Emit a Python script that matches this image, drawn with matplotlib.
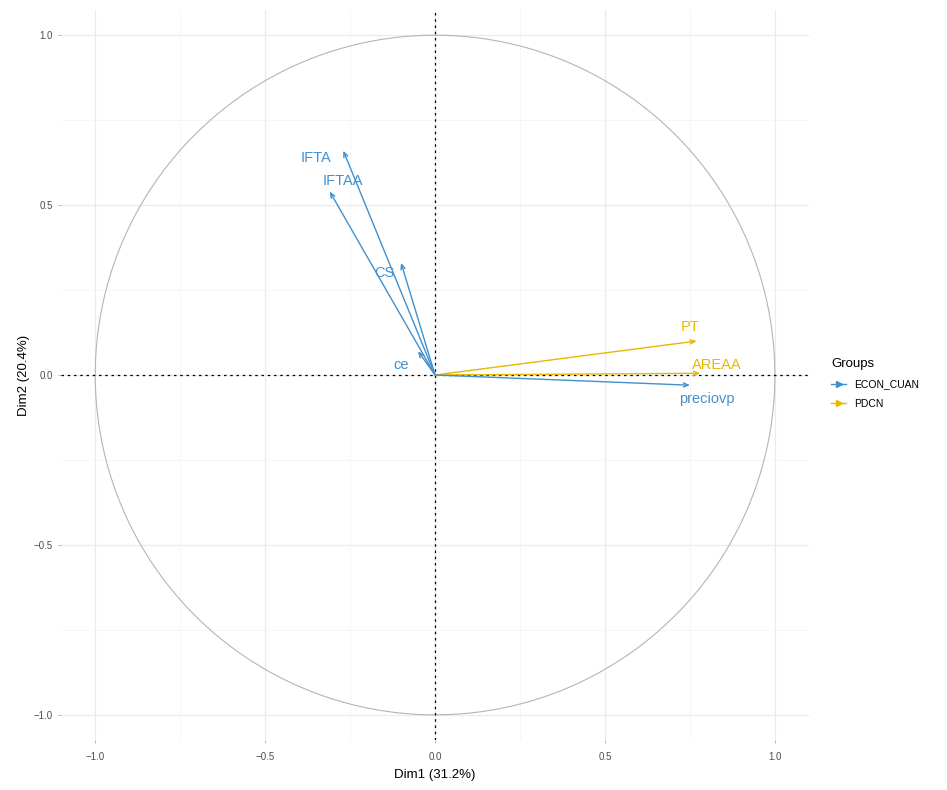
import matplotlib
matplotlib.use("Agg")
import matplotlib.pyplot as plt
import numpy as np
from matplotlib.lines import Line2D

plt.rcParams['font.family'] = ['Liberation Sans', 'DejaVu Sans']

# variable coordinates (Dim1, Dim2)
variables = ["IFTA", "IFTAA", "CS", "ce", "PT", "AREAA", "preciovp"]
dim1 = [-0.27, -0.31, -0.10, -0.05, 0.77, 0.78, 0.75]
dim2 = [0.66, 0.54, 0.33, 0.07, 0.10, 0.005, -0.03]
groups = ["ECON_CUAN", "ECON_CUAN", "ECON_CUAN", "ECON_CUAN", "PDCN", "PDCN", "ECON_CUAN"]
# label positions (data coordinates)
lab_x = [-0.35, -0.27, -0.15, -0.10, 0.75, 0.83, 0.80]
lab_y = [0.64, 0.57, 0.30, 0.03, 0.14, 0.03, -0.07]

group_names = ["ECON_CUAN", "PDCN"]
group_colors = {"ECON_CUAN": "#4190CE", "PDCN": "#E7B800"}

fig = plt.figure(figsize=(9.47, 7.9), dpi=100)
ax = fig.add_axes([0.0634, 0.0633, 0.792, 0.924])

# grid (theme_minimal)
for v in np.arange(-1.0, 1.01, 0.5):
    ax.axvline(v, color="#ebebeb", lw=0.9, zorder=0)
    ax.axhline(v, color="#ebebeb", lw=0.9, zorder=0)
for v in [-0.75, -0.25, 0.25, 0.75]:
    ax.axvline(v, color="#f3f3f3", lw=0.5, zorder=0)
    ax.axhline(v, color="#f3f3f3", lw=0.5, zorder=0)

# correlation circle
t = np.linspace(0, 2 * np.pi, 400)
ax.plot(np.cos(t), np.sin(t), color="#b5b5b5", lw=0.8, zorder=1)

ax.axhline(0, color="black", lw=0.9, ls=(0, (2, 3)), zorder=2)
ax.axvline(0, color="black", lw=0.9, ls=(0, (2, 3)), zorder=2)

for name, x, y, g, lx, ly in zip(variables, dim1, dim2, groups, lab_x, lab_y):
    c = group_colors[g]
    ax.annotate("", xy=(x, y), xytext=(0, 0),
                arrowprops=dict(arrowstyle="->,head_length=0.35,head_width=0.15",
                                color=c, lw=1.0, shrinkA=0, shrinkB=0), zorder=3)
    ax.text(lx, ly, name, color=c, fontsize=10.5, ha="center", va="center", zorder=4)

ax.set_xlim(-1.1, 1.1)
ax.set_ylim(-1.074, 1.074)
ax.set_aspect("equal")
ax.set_xticks([-1.0, -0.5, 0.0, 0.5, 1.0])
ax.set_yticks([-1.0, -0.5, 0.0, 0.5, 1.0])
ax.tick_params(labelsize=7, length=2.5, width=0.6, colors="#b0b0b0", labelcolor="#4d4d4d")
ax.tick_params(axis="x", pad=6)
for s in ax.spines.values():
    s.set_visible(False)
ax.set_xlabel("Dim1 (31.2%)", fontsize=9.5, labelpad=5)
ax.set_ylabel("Dim2 (20.4%)", fontsize=9.5, labelpad=3)

handles = [Line2D([0], [0], color=group_colors[g], lw=1.0, marker=">", markersize=4)
           for g in group_names]
leg = fig.legend(handles, group_names, title="Groups", loc="center left",
                 bbox_to_anchor=(0.868, 0.515), frameon=False, fontsize=7.5,
                 title_fontsize=9.5, handlelength=1.4, handletextpad=0.8, labelspacing=0.9)
leg._legend_box.align = "left"

fig.savefig("out.png", dpi=100)
